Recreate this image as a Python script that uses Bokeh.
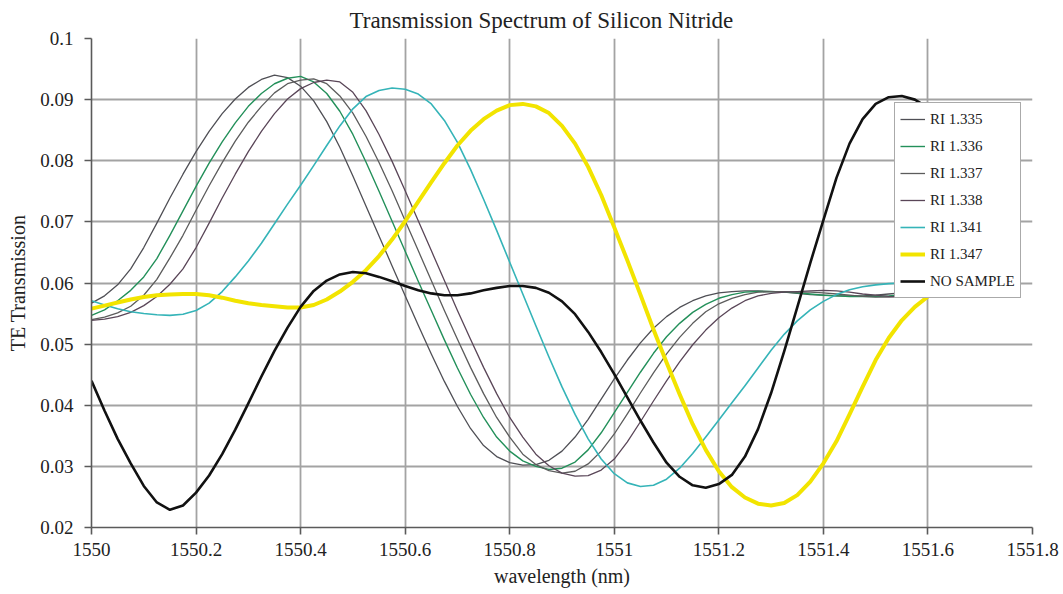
from bokeh.plotting import figure
from bokeh.models import FixedTicker, Legend, LegendItem, Range1d
from bokeh.embed import file_html
from bokeh.resources import INLINE

wavelength = [
    1550.000, 1550.025, 1550.050, 1550.075, 1550.100, 1550.125, 1550.150, 1550.175, 1550.200, 1550.225,
    1550.250, 1550.275, 1550.300, 1550.325, 1550.350, 1550.375, 1550.400, 1550.425, 1550.450, 1550.475,
    1550.500, 1550.525, 1550.550, 1550.575, 1550.600, 1550.625, 1550.650, 1550.675, 1550.700, 1550.725,
    1550.750, 1550.775, 1550.800, 1550.825, 1550.850, 1550.875, 1550.900, 1550.925, 1550.950, 1550.975,
    1551.000, 1551.025, 1551.050, 1551.075, 1551.100, 1551.125, 1551.150, 1551.175, 1551.200, 1551.225,
    1551.250, 1551.275, 1551.300, 1551.325, 1551.350, 1551.375, 1551.400, 1551.425, 1551.450, 1551.475,
    1551.500, 1551.525, 1551.550, 1551.575, 1551.600, 1551.625, 1551.650, 1551.675, 1551.700,
]

ri_1335 = [
    0.0567, 0.0579, 0.0597, 0.0623, 0.0658, 0.0698, 0.0739, 0.0778, 0.0815, 0.0848,
    0.0877, 0.0901, 0.0920, 0.0933, 0.0940, 0.0936, 0.0922, 0.0898, 0.0864, 0.0822,
    0.0775, 0.0726, 0.0677, 0.0628, 0.0579, 0.0531, 0.0484, 0.0439, 0.0398, 0.0362,
    0.0334, 0.0316, 0.0306, 0.0302, 0.0303, 0.0310, 0.0325, 0.0348, 0.0377, 0.0410,
    0.0443, 0.0474, 0.0502, 0.0526, 0.0545, 0.0560, 0.0571, 0.0579, 0.0584, 0.0586,
    0.0587, 0.0587, 0.0586, 0.0585, 0.0583, 0.0581, 0.0580, 0.0579, 0.0579, 0.0579,
    0.0580, 0.0582, 0.0584, 0.0586, 0.0588, 0.0590, 0.0592, 0.0594, 0.0596,
]

ri_1336 = [
    0.0547, 0.0556, 0.0571, 0.0588, 0.0610, 0.0640, 0.0678, 0.0718, 0.0758, 0.0796,
    0.0831, 0.0862, 0.0889, 0.0910, 0.0926, 0.0935, 0.0938, 0.0929, 0.0910, 0.0881,
    0.0843, 0.0798, 0.0750, 0.0701, 0.0652, 0.0603, 0.0555, 0.0507, 0.0461, 0.0418,
    0.0380, 0.0348, 0.0325, 0.0309, 0.0300, 0.0295, 0.0297, 0.0307, 0.0327, 0.0355,
    0.0388, 0.0421, 0.0454, 0.0485, 0.0512, 0.0534, 0.0552, 0.0565, 0.0575, 0.0581,
    0.0585, 0.0586, 0.0586, 0.0585, 0.0584, 0.0582, 0.0580, 0.0579, 0.0578, 0.0578,
    0.0578, 0.0579, 0.0581, 0.0583, 0.0585, 0.0586, 0.0587, 0.0588, 0.0589,
]

ri_1337 = [
    0.0540, 0.0544, 0.0551, 0.0562, 0.0580, 0.0606, 0.0641, 0.0678, 0.0719, 0.0759,
    0.0797, 0.0832, 0.0863, 0.0889, 0.0911, 0.0926, 0.0932, 0.0934, 0.0926, 0.0906,
    0.0878, 0.0840, 0.0797, 0.0751, 0.0702, 0.0653, 0.0604, 0.0555, 0.0508, 0.0462,
    0.0419, 0.0380, 0.0348, 0.0320, 0.0303, 0.0293, 0.0289, 0.0292, 0.0304, 0.0325,
    0.0353, 0.0386, 0.0420, 0.0453, 0.0484, 0.0511, 0.0534, 0.0553, 0.0566, 0.0575,
    0.0581, 0.0585, 0.0586, 0.0586, 0.0585, 0.0585, 0.0584, 0.0582, 0.0580, 0.0578,
    0.0577, 0.0577, 0.0578, 0.0579, 0.0580, 0.0581, 0.0582, 0.0583, 0.0584,
]

ri_1338 = [
    0.0539, 0.0541, 0.0545, 0.0552, 0.0563, 0.0578, 0.0598, 0.0623, 0.0658, 0.0698,
    0.0739, 0.0778, 0.0815, 0.0848, 0.0877, 0.0901, 0.0918, 0.0928, 0.0932, 0.0929,
    0.0912, 0.0882, 0.0843, 0.0799, 0.0751, 0.0702, 0.0653, 0.0604, 0.0555, 0.0508,
    0.0462, 0.0419, 0.0380, 0.0348, 0.0320, 0.0301, 0.0289, 0.0284, 0.0285, 0.0294,
    0.0312, 0.0340, 0.0373, 0.0407, 0.0440, 0.0471, 0.0499, 0.0523, 0.0543, 0.0559,
    0.0571, 0.0579, 0.0583, 0.0585, 0.0586, 0.0587, 0.0588, 0.0587, 0.0585, 0.0582,
    0.0580, 0.0578, 0.0577, 0.0577, 0.0577, 0.0578, 0.0578, 0.0579, 0.0579,
]

ri_1341 = [
    0.0571, 0.0564, 0.0558, 0.0553, 0.0550, 0.0548, 0.0547, 0.0549, 0.0555, 0.0567,
    0.0586, 0.0610, 0.0636, 0.0665, 0.0697, 0.0729, 0.0760, 0.0792, 0.0825, 0.0857,
    0.0885, 0.0905, 0.0915, 0.0919, 0.0917, 0.0909, 0.0893, 0.0866, 0.0830, 0.0786,
    0.0737, 0.0686, 0.0634, 0.0582, 0.0530, 0.0479, 0.0430, 0.0385, 0.0345, 0.0312,
    0.0288, 0.0273, 0.0267, 0.0269, 0.0279, 0.0297, 0.0321, 0.0348, 0.0376, 0.0404,
    0.0432, 0.0461, 0.0490, 0.0516, 0.0538, 0.0556, 0.0570, 0.0581, 0.0589, 0.0594,
    0.0597, 0.0599, 0.0600, 0.0600, 0.0599, 0.0597, 0.0594, 0.0591, 0.0588,
]

ri_1347 = [
    0.0558, 0.0563, 0.0568, 0.0573, 0.0577, 0.0580, 0.0581, 0.0582, 0.0582, 0.0580,
    0.0576, 0.0571, 0.0567, 0.0564, 0.0562, 0.0560, 0.0560, 0.0564, 0.0573, 0.0586,
    0.0602, 0.0621, 0.0644, 0.0671, 0.0701, 0.0733, 0.0765, 0.0796, 0.0825, 0.0849,
    0.0868, 0.0882, 0.0891, 0.0893, 0.0889, 0.0878, 0.0857, 0.0828, 0.0790, 0.0744,
    0.0691, 0.0637, 0.0581, 0.0524, 0.0470, 0.0418, 0.0369, 0.0327, 0.0292, 0.0266,
    0.0249, 0.0239, 0.0236, 0.0240, 0.0253, 0.0275, 0.0305, 0.0341, 0.0385, 0.0430,
    0.0474, 0.0510, 0.0539, 0.0561, 0.0578, 0.0593, 0.0607, 0.0620, 0.0632,
]

no_sample = [
    0.0440, 0.0391, 0.0345, 0.0305, 0.0268, 0.0241, 0.0229, 0.0236, 0.0257, 0.0285,
    0.0320, 0.0360, 0.0403, 0.0447, 0.0489, 0.0527, 0.0561, 0.0587, 0.0604, 0.0614,
    0.0618, 0.0616, 0.0610, 0.0603, 0.0595, 0.0588, 0.0583, 0.0580, 0.0580, 0.0583,
    0.0588, 0.0592, 0.0595, 0.0595, 0.0592, 0.0584, 0.0570, 0.0549, 0.0520, 0.0487,
    0.0451, 0.0413, 0.0375, 0.0339, 0.0306, 0.0283, 0.0269, 0.0265, 0.0271, 0.0286,
    0.0316, 0.0361, 0.0420, 0.0488, 0.0560, 0.0633, 0.0703, 0.0772, 0.0828, 0.0868,
    0.0893, 0.0904, 0.0906, 0.0900, 0.0887, 0.0868, 0.0844, 0.0816, 0.0785,
]

series_names = ["RI 1.335", "RI 1.336", "RI 1.337", "RI 1.338", "RI 1.341", "RI 1.347", "NO SAMPLE"]
series_values = [ri_1335, ri_1336, ri_1337, ri_1338, ri_1341, ri_1347, no_sample]
series_colors = ["#4f4f55", "#23905a", "#5c5c5c", "#5a4658", "#35b4b8", "#f2e400", "#111111"]
series_widths = [1.3, 1.4, 1.3, 1.3, 1.6, 4.0, 2.6]

x_ticks = [1550.0, 1550.2, 1550.4, 1550.6, 1550.8, 1551.0, 1551.2, 1551.4, 1551.6, 1551.8]
x_tick_labels = ["1550", "1550.2", "1550.4", "1550.6", "1550.8", "1551", "1551.2", "1551.4", "1551.6", "1551.8"]
y_ticks = [0.02, 0.03, 0.04, 0.05, 0.06, 0.07, 0.08, 0.09, 0.1]
y_tick_labels = ["0.02", "0.03", "0.04", "0.05", "0.06", "0.07", "0.08", "0.09", "0.1"]

FONT = "Liberation Serif"
TXT = "#222222"
AX = "#5a5a5a"

p = figure(width=1063, height=594, output_backend="svg", toolbar_location=None,
           x_range=Range1d(1550, 1551.8), y_range=Range1d(0.02, 0.1),
           min_border_left=91, min_border_right=31, min_border_top=38, min_border_bottom=67,
           background_fill_color="white", border_fill_color="white")
p.outline_line_color = None

p.title.text = "Transmission Spectrum of Silicon Nitride"
p.title.text_font = FONT
p.title.text_font_size = "23px"
p.title.text_font_style = "normal"
p.title.text_color = TXT
p.title.align = "left"
p.title.offset = 258
p.title.standoff = 11

for ax in (p.xaxis[0], p.yaxis[0]):
    ax.axis_line_color = AX
    ax.axis_line_width = 1.6
    ax.major_tick_line_color = AX
    ax.major_tick_line_width = 1.6
    ax.major_tick_out = 7
    ax.major_tick_in = 0
    ax.minor_tick_out = 0
    ax.minor_tick_in = 0
    ax.major_label_text_font = FONT
    ax.major_label_text_font_size = "19px"
    ax.major_label_text_color = TXT
    ax.axis_label_text_font = FONT
    ax.axis_label_text_font_size = "20px"
    ax.axis_label_text_font_style = "normal"
    ax.axis_label_text_color = TXT

p.xaxis.ticker = FixedTicker(ticks=x_ticks)
p.xaxis.major_label_overrides = dict(zip(x_ticks, x_tick_labels))
p.yaxis.ticker = FixedTicker(ticks=y_ticks)
p.yaxis.major_label_overrides = dict(zip(y_ticks, y_tick_labels))
p.xaxis.axis_label = "wavelength (nm)"
p.yaxis.axis_label = "TE Transmission"
p.xaxis.major_label_standoff = 8
p.yaxis.major_label_standoff = 11
p.xaxis.axis_label_standoff = 6
p.yaxis.axis_label_standoff = 8

p.xgrid.ticker = FixedTicker(ticks=x_ticks[1:-1])
p.ygrid.ticker = FixedTicker(ticks=y_ticks[1:-1])
for g in (p.xgrid[0], p.ygrid[0]):
    g.grid_line_color = "#a3a3a3"
    g.grid_line_width = 1.8

items = []
for name, vals, col, lw in zip(series_names, series_values, series_colors, series_widths):
    r = p.line(wavelength, vals, line_color=col, line_width=lw, line_join="round")
    items.append(LegendItem(label=name, renderers=[r]))

legend = Legend(items=items, location=(803, 229), margin=0, padding=5, spacing=5,
                glyph_width=25, glyph_height=22, label_height=22, label_standoff=5,
                label_text_font=FONT, label_text_font_size="15px", label_text_color=TXT,
                border_line_color="#555555", border_line_width=1.5,
                background_fill_color="white", background_fill_alpha=1.0)
p.add_layout(legend)

open("out.html", "w").write(file_html(p, INLINE))
